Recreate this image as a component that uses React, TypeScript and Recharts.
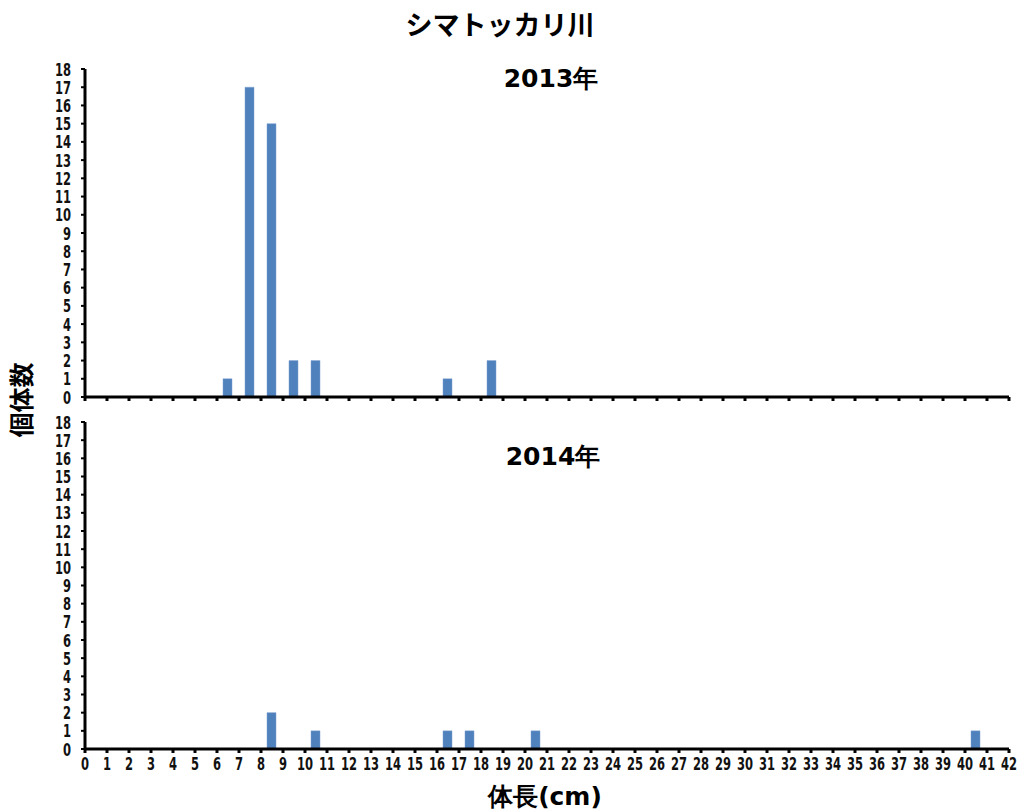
import React from 'react';
import { BarChart, Bar, XAxis, YAxis, Text } from 'recharts';

// body length bins (cm), one per 1 cm class
const bins = [
  0, 1, 2, 3, 4, 5, 6, 7, 8, 9, 10, 11, 12, 13, 14, 15, 16, 17, 18, 19, 20,
  21, 22, 23, 24, 25, 26, 27, 28, 29, 30, 31, 32, 33, 34, 35, 36, 37, 38, 39, 40, 41,
];
const counts2013 = [
  0, 0, 0, 0, 0, 0, 1, 17, 15, 2, 2, 0, 0, 0, 0, 0, 1, 0, 2, 0, 0,
  0, 0, 0, 0, 0, 0, 0, 0, 0, 0, 0, 0, 0, 0, 0, 0, 0, 0, 0, 0, 0,
];
const counts2014 = [
  0, 0, 0, 0, 0, 0, 0, 0, 2, 0, 1, 0, 0, 0, 0, 0, 1, 1, 0, 0, 1,
  0, 0, 0, 0, 0, 0, 0, 0, 0, 0, 0, 0, 0, 0, 0, 0, 0, 0, 0, 1, 0,
];
const xTicks = Array.from({ length: 43 }, (_, i) => i);
const yTicks = Array.from({ length: 19 }, (_, i) => i);

const data2013 = bins.map((b, i) => ({ mid: b + 0.5, n: counts2013[i] }));
const data2014 = bins.map((b, i) => ({ mid: b + 0.5, n: counts2014[i] }));

const FONT = "'DejaVu Sans', sans-serif";
const JP = "'Noto Sans CJK JP', sans-serif";
const BLUE = '#4F81BD';

// narrow look of the original axis font
const NarrowTick = (props: any) => {
  const { x, y, payload, textAnchor, orientation } = props;
  const dy = orientation === 'bottom' ? 14 : 6.5;
  return (
    <g transform={`translate(${x},${y}) scale(0.66,1)`}>
      <text x={0} y={0} dy={dy} textAnchor={textAnchor} fontSize={17.5} fontWeight={600} fontFamily={FONT} fill="#111">
        {payload.value}
      </text>
    </g>
  );
};

const NoTick = () => <g />;

const Panel: React.FC<{ data: { mid: number; n: number }[]; height: number; margin: any; showX: boolean }> = ({ data, height, margin, showX }) => (
  <BarChart width={1022} height={height} data={data} margin={margin}>
    <XAxis
      dataKey="mid"
      type="number"
      domain={[0, 42]}
      ticks={xTicks}
      interval={0}
      axisLine={{ stroke: '#000', strokeWidth: 3 }}
      tickLine={{ stroke: '#000', strokeWidth: 3 }}
      tickSize={4}
      tick={showX ? <NarrowTick orientation="bottom" /> : <NoTick />}
      tickMargin={3}
      height={showX ? 30 : 10}
    />
    <YAxis
      domain={[0, 18]}
      ticks={yTicks}
      interval={0}
      width={40}
      axisLine={{ stroke: '#000', strokeWidth: 3 }}
      tickLine={{ stroke: '#000', strokeWidth: 2 }}
      tickSize={4}
      tickMargin={10}
      tick={<NarrowTick orientation="left" />}
    />
    <Bar dataKey="n" fill={BLUE} stroke="#7fa3d0" strokeWidth={0.5} barSize={9} isAnimationActive={false} />
  </BarChart>
);

const App: React.FC = () => {
  return (
    <div style={{ position: 'absolute', left: 0, top: 0, width: 1022, height: 812, background: '#fff', fontFamily: JP }}>
      <div style={{ position: 'absolute', left: 0, top: 0 }}>
        <Panel data={data2013} height={420} margin={{ top: 69, right: 13, bottom: 13, left: 45 }} showX={false} />
      </div>
      <div style={{ position: 'absolute', left: 0, top: 400 }}>
        <Panel data={data2014} height={412} margin={{ top: 22, right: 13, bottom: 33, left: 45 }} showX={true} />
      </div>
      <svg width={1022} height={812} style={{ position: 'absolute', left: 0, top: 0, pointerEvents: 'none' }}>
        <Text x={500} y={25} textAnchor="middle" verticalAnchor="middle" fontSize={27} fontWeight="bold" fontFamily={JP} fill="#000">
          シマトッカリ川
        </Text>
        <Text x={551} y={78} textAnchor="middle" verticalAnchor="middle" fontSize={25} fontWeight="bold" fontFamily={FONT} fill="#000">
          2013年
        </Text>
        <Text x={553} y={456} textAnchor="middle" verticalAnchor="middle" fontSize={25} fontWeight="bold" fontFamily={FONT} fill="#000">
          2014年
        </Text>
        <Text x={545} y={796} textAnchor="middle" verticalAnchor="middle" fontSize={25} fontWeight="bold" fontFamily={FONT} fill="#000">
          体長(cm)
        </Text>
        <Text x={22} y={400} angle={-90} textAnchor="middle" verticalAnchor="middle" fontSize={25} fontWeight="bold" fontFamily={JP} fill="#000">
          個体数
        </Text>
      </svg>
    </div>
  );
};

export default App;
